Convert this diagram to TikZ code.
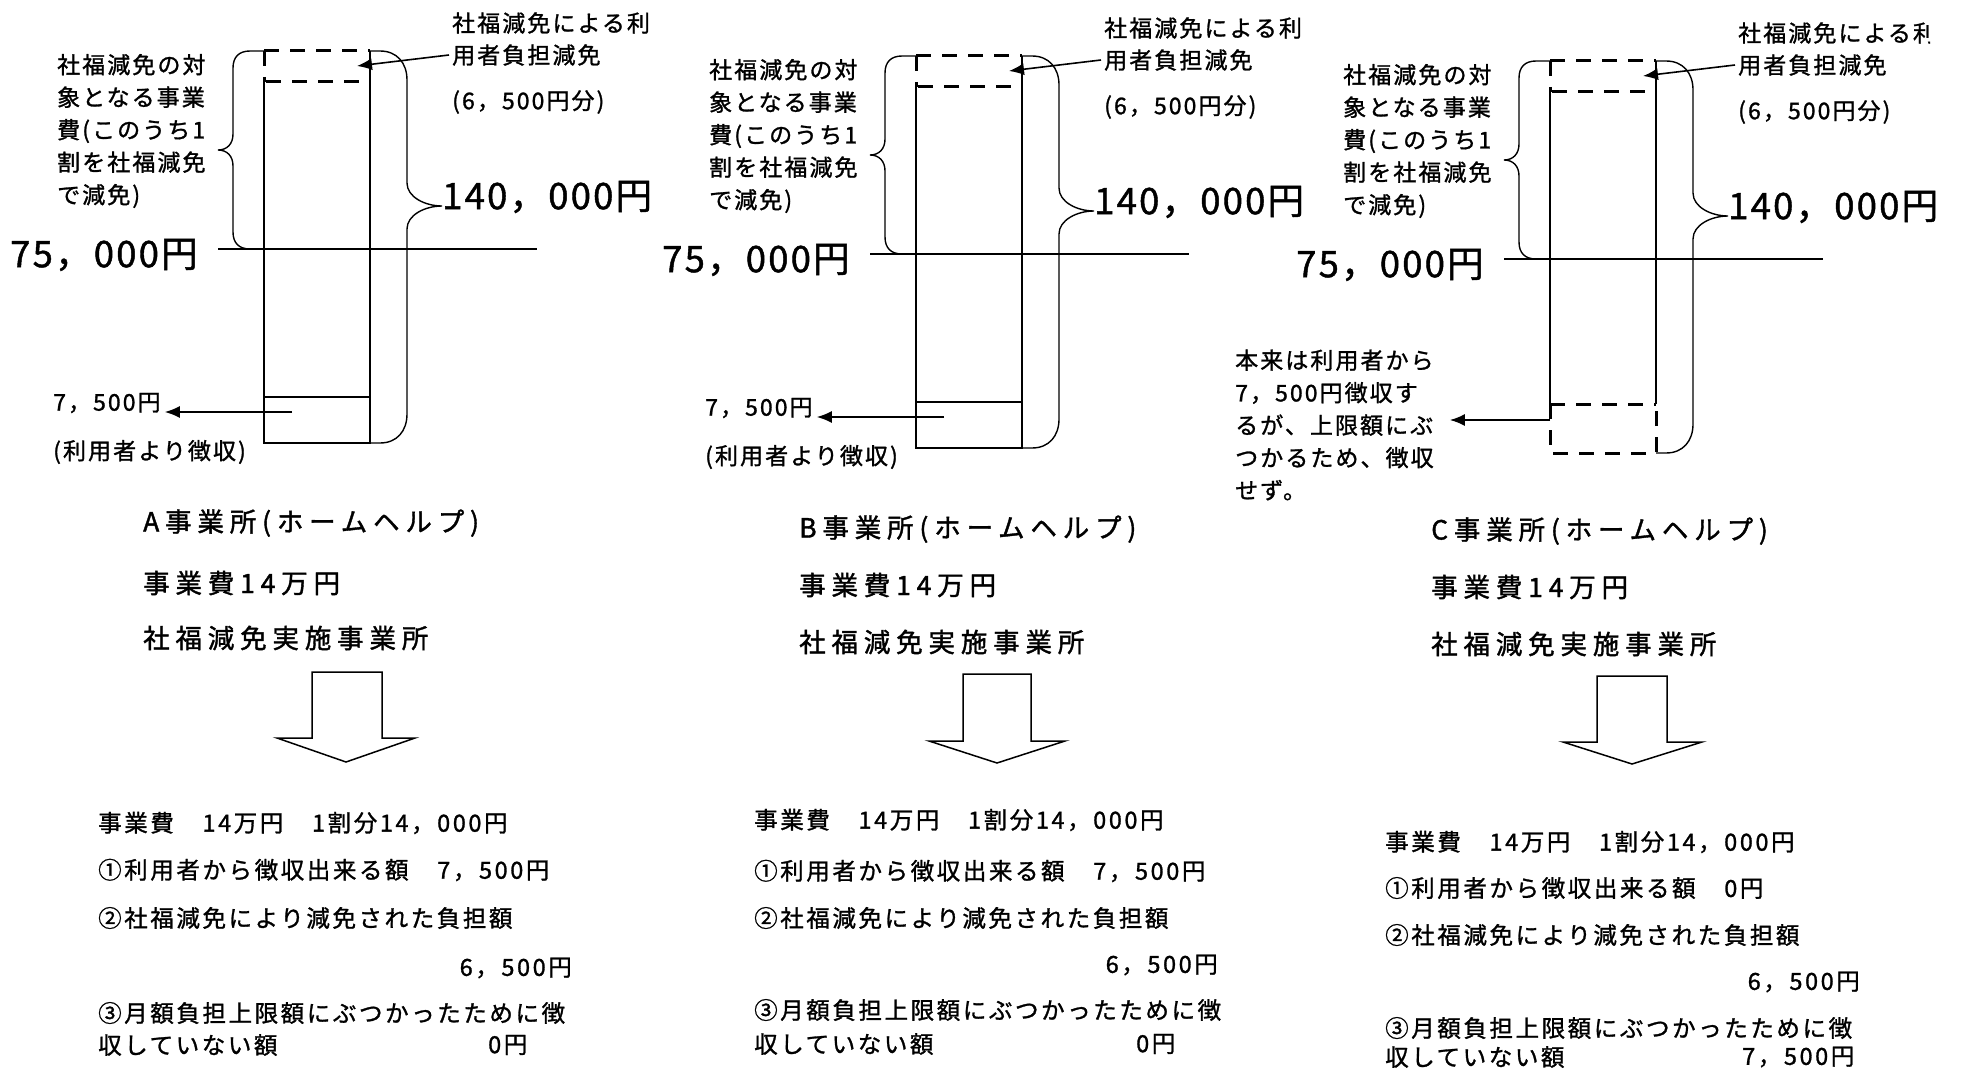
\documentclass[tikz,border=0pt]{standalone}
\usepackage{fontspec}
\usetikzlibrary{arrows.meta}
\newfontfamily\jplab[LetterSpace=9,FakeBold=1.2]{Noto Sans CJK JP}
\newfontfamily\jpbig[LetterSpace=6,FakeBold=1.2]{Noto Sans CJK JP}
\newfontfamily\jphead[LetterSpace=22,FakeBold=1.4]{Noto Sans CJK JP}
\newfontfamily\jpbody[LetterSpace=11,FakeBold=1.2]{Noto Sans CJK JP}
\tikzset{
  lab/.style={font=\jplab\fontsize{23}{32.5}\selectfont, inner sep=0pt, anchor=west},
  big/.style={font=\jpbig\fontsize{36.5}{40}\selectfont, inner sep=0pt, anchor=west},
  head/.style={font=\jphead\fontsize{26.5}{30}\selectfont, inner sep=0pt, anchor=west},
  body/.style={font=\jpbody\fontsize{23.5}{28}\selectfont, inner sep=0pt, anchor=west},
  colline/.style={line width=1.4pt},
  thinline/.style={line width=1.2pt},
  dashline/.style={line width=3pt, dash pattern=on 15pt off 11pt},
  brace/.style={line width=1.4pt},
  arr/.style={line width=1.6pt, -{Latex[length=15pt,width=12pt]}},
  blockarrow/.style={line width=1.5pt, line join=miter}
}
% #1 dx, #2 dy, #3 prefix, #4 clip x for first label, #5 extra code
\newcommand\drawpanel[5]{%
\begin{scope}[shift={(#1,#2)}, name prefix=#3-]
  % top dashed box
  \draw[dashline] (264,51) -- (370,51);
  \draw[dashline] (266,82) -- (370,82);
  \draw[dashline] (264,51) -- (264,82);
  % 75,000 line
  \draw[thinline] (218,249) -- (537,249);
  % left brace
  \draw[brace] (264,51) -- (250,51) .. controls (239,51) and (233,57) .. (233,68)
     -- (233,134) .. controls (233,144) and (227,150) .. (218,150)
     .. controls (227,150) and (233,156) .. (233,166)
     -- (233,232) .. controls (233,243) and (239,249) .. (250,249) -- (264,249);
  % right brace
  \draw[brace] (370,51) -- (380,51) .. controls (397,51) and (407,63) .. (407,80)
     -- (407,183) .. controls (407,197) and (425,206) .. (442,206)
     .. controls (425,206) and (407,215) .. (407,229)
     -- (407,414) .. controls (407,431) and (397,443) .. (380,443) -- (370,443);
  % labels
  \begin{scope}
    \clip (0,0) rectangle (#4,40);
    \node[lab] (l1) at (452,23) {社福減免による利};
  \end{scope}
  \node[lab] (l2) at (452,55) {用者負担減免};
  \node[lab] (l3) at (452,102) {(6，500円分)};
  \coordinate (tip) at (357,66);
  \draw[arr] ([xshift=-3pt]l2.west) -- (tip);
  \node[lab, align=left] (lt) at (57,131) {社福減免の対\\象となる事業\\費(このうち1\\割を社福減免\\で減免)};
  \node[big] (n75) at (10,255) {75，000円};
  \node[big] (n140) at (442,197) {140，000円};
  #5
\end{scope}}
\newcommand\abextra{%
  \draw[colline] (264,82) -- (264,443) -- (370,443) -- (370,51);
  \draw[thinline] (264,397) -- (370,397);
  \node[lab] (v75) at (53,403) {7，500円};
  \coordinate (vs) at (292,412);
  \draw[arr] (vs) -- ([xshift=4pt]v75.east |- vs);
  \node[lab] (yori) at (53,452) {(利用者より徴収)};
}
\newcommand\cextra{%
  \draw[colline] (264,82) -- (264,394);
  \draw[colline] (370,51) -- (370,394);
  \draw[dashline] (264,394) -- (370,394);
  \draw[dashline] (264,394) -- (264,443) -- (370,443) -- (370,394);
  \coordinate (cs) at (264,410);
}
\begin{document}
\begin{tikzpicture}[x=1pt,y=-1pt]
\path[use as bounding box] (0,0) rectangle (1961,1070);
\fill[white] (0,0) rectangle (1961,1070);
\clip (0,0) rectangle (1961,1070);

\drawpanel{0}{0}{A}{900}{\abextra}
\drawpanel{652}{5}{B}{900}{\abextra}
\drawpanel{1286}{10}{C}{644}{\cextra}

% C note
\node[lab, align=left] (note) at (1235,425) {本来は利用者から\\7，500円徴収す\\るが、上限額にぶ\\つかるため、徴収\\せず。};
\draw[arr] (C-cs) -- ([xshift=16pt]note.east |- C-cs);

% headers
\node[head] (ha1) at (143,523) {A事業所(ホームヘルプ)};
\node[head] (ha2) at (143,583) {事業費14万円};
\node[head] (ha3) at (143,638) {社福減免実施事業所};
\node[head] (hb1) at (799,529) {B事業所(ホームヘルプ)};
\node[head] (hb2) at (799,585) {事業費14万円};
\node[head] (hb3) at (799,642) {社福減免実施事業所};
\node[head] (hc1) at (1431,531) {C事業所(ホームヘルプ)};
\node[head] (hc2) at (1431,587) {事業費14万円};
\node[head] (hc3) at (1431,644) {社福減免実施事業所};

% block arrows
\draw[blockarrow] (312,672) -- (382,672) -- (382,738) -- (415,738) -- (346,762) -- (277,738) -- (312,738) -- cycle;
\draw[blockarrow] (963,674) -- (1031,674) -- (1031,741) -- (1065,741) -- (997,763) -- (929,741) -- (963,741) -- cycle;
\draw[blockarrow] (1597,676) -- (1667,676) -- (1667,742) -- (1702,742) -- (1632,764) -- (1563,742) -- (1597,742) -- cycle;

% bottom text A
\node[body] (a1) at (98,823) {事業費　14万円　1割分14，000円};
\node[body] (a2) at (98,870) {①利用者から徴収出来る額　7，500円};
\node[body] (a3) at (98,918) {②社福減免により減免された負担額};
\node[body, anchor=east] (a4) at (572,968) {6，500円};
\node[body] (a5) at (98,1013) {③月額負担上限額にぶつかったために徴};
\node[body] (a6) at (98,1045) {収していない額};
\node[body] (a7) at (488,1045) {0円};
% bottom text B
\node[body] (b1) at (754,820) {事業費　14万円　1割分14，000円};
\node[body] (b2) at (754,871) {①利用者から徴収出来る額　7，500円};
\node[body] (b3) at (754,918) {②社福減免により減免された負担額};
\node[body, anchor=east] (b4) at (1218,965) {6，500円};
\node[body] (b5) at (754,1010) {③月額負担上限額にぶつかったために徴};
\node[body] (b6) at (754,1044) {収していない額};
\node[body] (b7) at (1136,1044) {0円};
% bottom text C
\node[body] (c1) at (1385,842) {事業費　14万円　1割分14，000円};
\node[body] (c2) at (1385,888) {①利用者から徴収出来る額　0円};
\node[body] (c3) at (1385,935) {②社福減免により減免された負担額};
\node[body, anchor=east] (c4) at (1860,982) {6，500円};
\node[body] (c5) at (1385,1028) {③月額負担上限額にぶつかったために徴};
\node[body] (c6) at (1385,1057) {収していない額};
\node[body] (c7) at (1742,1057) {7，500円};
\end{tikzpicture}
\end{document}
